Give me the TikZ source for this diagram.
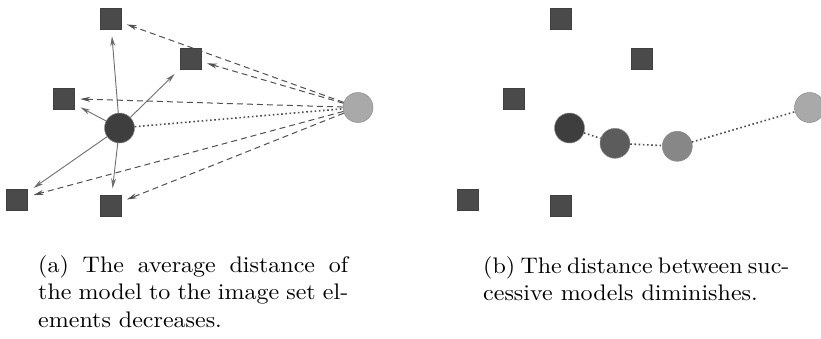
\documentclass[tikz,border=0pt]{standalone}
\usepackage{graphicx}
\usetikzlibrary{arrows.meta}
\definecolor{sqcol}{HTML}{4A4A4A}
\definecolor{darkc}{HTML}{3E3E3E}
\definecolor{midc}{HTML}{5C5C5C}
\definecolor{lmidc}{HTML}{878787}
\definecolor{lightc}{HTML}{A9A9A9}
\definecolor{arrc}{HTML}{6E6E6E}
\definecolor{dashc}{HTML}{505050}
\begin{document}
\begin{tikzpicture}[x=1pt,y=-1pt,
  sq/.style={draw=black!75,fill=sqcol,minimum size=21pt,inner sep=0pt,line width=0.5pt},
  ball/.style={circle,draw=black!45,minimum size=30pt,inner sep=0pt,line width=0.5pt},
  solidarrow/.style={draw=arrc,line width=0.9pt,-{Stealth[length=10pt,width=5pt]},shorten >=7pt},
  dasharrow/.style={draw=dashc,line width=1pt,dash pattern=on 6pt off 4pt,-{Stealth[length=10pt,width=5pt]},shorten >=6pt},
  dotline/.style={draw=dashc,line width=1.6pt,dash pattern=on 1.6pt off 2.6pt},
  captext/.style={anchor=base west,inner sep=0pt}]
\useasboundingbox (0,0) rectangle (821,338);
% ---------- panel (a)
\node[sq] (a1) at (110.5,18.5) {};
\node[sq] (a2) at (190.5,58.5) {};
\node[sq] (a3) at (63.5,98.5) {};
\node[sq] (a4) at (17,199.5) {};
\node[sq] (a5) at (110.5,206) {};
\node[ball,fill=darkc] (am) at (119.5,128) {};
\node[ball,fill=lightc] (an) at (358,107.5) {};
\foreach \s in {a1,a2,a3,a4,a5}{
  \draw[solidarrow] (am) -- (\s);
  \draw[dasharrow] (an) -- (\s);
}
\draw[dotline] (am) -- (an);
% ---------- panel (b)
\node[sq] (b1) at (561,18.5) {};
\node[sq] (b2) at (641.5,58.5) {};
\node[sq] (b3) at (514,98.5) {};
\node[sq] (b4) at (467.5,199.5) {};
\node[sq] (b5) at (561,206) {};
\node[ball,fill=darkc] (m1) at (569.5,128) {};
\node[ball,fill=midc] (m2) at (615,143.3) {};
\node[ball,fill=lmidc] (m3) at (677.3,146.3) {};
\node[ball,fill=lightc] (m4) at (809.5,107.5) {};
\draw[dotline] (m1) -- (m2);
\draw[dotline] (m2) -- (m3);
\draw[dotline] (m3) -- (m4);
% ---------- captions
\node[captext] (capa) at (38,272) {\scalebox{2.4}[2.25]{\parbox[t]{129.2pt}{\fontsize{10}{12.44}\selectfont
  \makebox[129.2pt][s]{(a) The average distance of}\\
  \makebox[129.2pt][s]{the model to the image set el-}\\
  ements decreases.}}};
\node[captext] (capb) at (483,273) {\scalebox{2.4}[2.25]{\parbox[t]{127.1pt}{\fontsize{10}{12.44}\selectfont
  \makebox[127.1pt][s]{(b) The distance between suc-}\\
  cessive models diminishes.}}};
\end{tikzpicture}
\end{document}
